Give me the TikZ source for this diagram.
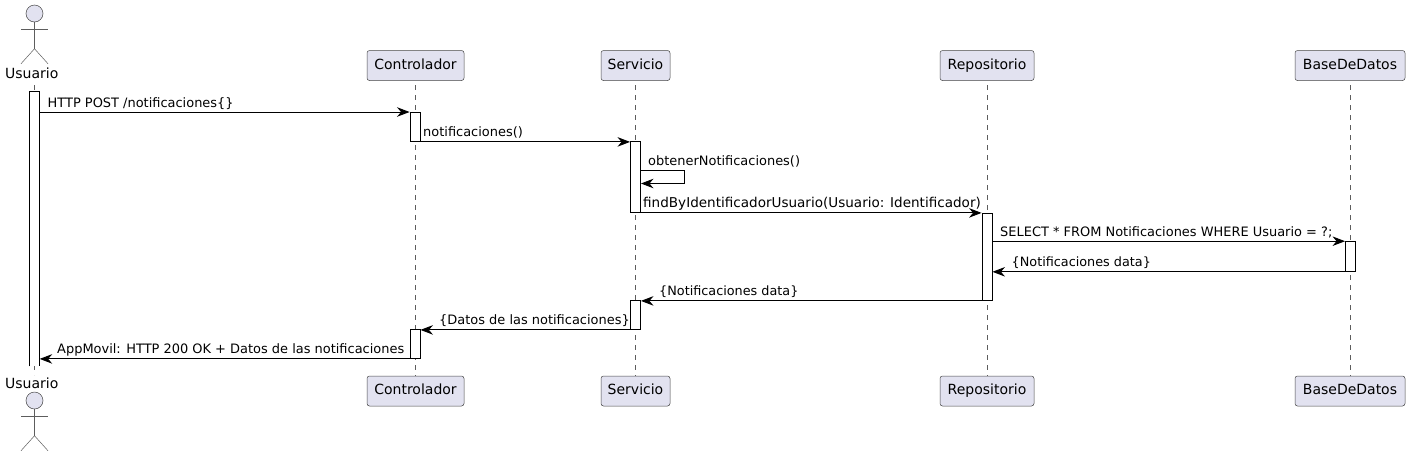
\documentclass[tikz,border=0pt]{standalone}
\usepackage{fontspec}
\setmainfont{DejaVu Sans}
\usetikzlibrary{arrows.meta,calc}
\definecolor{partfill}{HTML}{E2E2F0}
\definecolor{partline}{HTML}{181818}
\tikzset{
  x=1pt,y=-1pt,
  part/.style={draw=partline!80,line width=0.5pt,fill=partfill,rounded corners=2.5pt,inner sep=0pt,minimum height=30pt,text height=10.5pt,text depth=3pt,font=\fontsize{14}{16}\selectfont},
  actorname/.style={inner sep=0pt,font=\fontsize{14}{16}\selectfont},
  life/.style={draw=partline!70,line width=0.5pt,dash pattern=on 5pt off 5pt,dash phase=8.5pt},
  actbox/.style={draw=black,line width=0.9pt,fill=white,inner sep=0pt,minimum width=10pt,anchor=north},
  openbox/.style={fill=white,inner sep=0pt,minimum width=10pt,anchor=north},
  sideline/.style={draw=black,line width=0.9pt},
  msg/.style={draw=black,line width=0.9pt,-{Stealth[length=12.5pt,width=9.5pt,inset=4pt]}},
  msgtext/.style={inner sep=0pt,anchor=base west,font=\fontsize{12.95}{15}\selectfont},
  actorline/.style={draw=partline!70,line width=0.5pt},
  actorhead/.style={draw=partline!80,line width=0.5pt,fill=partfill,circle,inner sep=0pt,minimum size=17pt},
}
\newcommand{\stickfigure}[2]{%
  \draw[actorline] (#1.south) -- ++(0,26.5) coordinate (#2hip);
  \draw[actorline] ($(#1.south)+(-13.5,7.2)$) -- ++(27,0);
  \draw[actorline] ($(#2hip)+(-13.5,15)$) -- (#2hip) -- ($(#2hip)+(13.5,15)$);
}
\begin{document}
\begin{tikzpicture}
\useasboundingbox (0,0) rectangle (1409,456);
% participants
\node[actorhead] (headT) at (34.5,13.5) {};
\node[actorhead] (headB) at (34.5,400.5) {};
\node[actorname] (uT) at (31.8,73) {Usuario};
\node[actorname] (uB) at (31.8,383) {Usuario};
\node[part,minimum width=97pt] (cT) at (415.5,65.5) {Controlador};
\node[part,minimum width=97pt] (cB) at (415.5,391) {Controlador};
\node[part,minimum width=69pt] (sT) at (635.5,65.5) {Servicio};
\node[part,minimum width=69pt] (sB) at (635.5,391) {Servicio};
\node[part,minimum width=94pt] (rT) at (987,65.5) {Repositorio};
\node[part,minimum width=94pt] (rB) at (987,391) {Repositorio};
\node[part,minimum width=110pt] (bT) at (1350,65.5) {BaseDeDatos};
\node[part,minimum width=110pt] (bB) at (1350,391) {BaseDeDatos};
\stickfigure{headT}{t}
\stickfigure{headB}{b}
% lifelines
\coordinate (uTl) at (34.5,73.5);
\coordinate (uBl) at (34.5,375);
\coordinate (cTl) at (cT.south |- uTl);
\coordinate (sTl) at (sT.south |- uTl);
\coordinate (rTl) at (rT.south |- uTl);
\coordinate (bTl) at (bT.south |- uTl);
\begin{scope}
\clip (0,80.5) rectangle (1409,376);
\draw[life] (uTl) -- (uBl);
\draw[life] (cTl) -- (cB);
\draw[life] (sTl) -- (sB);
\draw[life] (rTl) -- (rB);
\draw[life] (bTl) -- (bB);
\end{scope}
% activations
\node[openbox,minimum height=274.5pt] (a1) at (34.5,91.5) {};
\draw[sideline] (a1.south west) -- (a1.north west) -- (a1.north east) -- (a1.south east);
\node[actbox,minimum height=29pt] (c1) at (415,112) {};
\node[actbox,minimum height=29pt] (c2) at (415,329) {};
\node[actbox,minimum height=71pt] (s1) at (635.5,141) {};
\node[actbox,minimum height=29pt] (s2) at (635.5,300) {};
\node[actbox,minimum height=87.5pt] (r1) at (987,212.5) {};
\node[actbox,minimum height=29.7pt] (b1) at (1350.5,241.2) {};
% messages
\draw[msg] (a1.east |- c1.north) -- (c1.north west);
\draw[msg] (c1.south east) -- (s1.west |- c1.south);
\coordinate (selfA) at (s1.east |- 0,170.5);
\coordinate (selfB) at (s1.east |- 0,183.5);
\draw[msg] (selfA) -- ++(43,0) -- ++(0,13) -- (selfB);
\draw[msg] (s1.south east) -- (r1.west |- s1.south);
\draw[msg] (r1.east |- b1.north) -- (b1.north west);
\draw[msg] (b1.south west) -- (r1.east |- b1.south);
\draw[msg] (r1.south west) -- (s2.east |- r1.south);
\draw[msg] (s2.south west) -- (c2.east |- s2.south);
\draw[msg] (c2.south west) -- (a1.east |- c2.south);
% labels
\node[msgtext] (m1) at (47.5,107) {HTTP POST /notificaciones\{\}};
\node[msgtext] (m2) at (423,136) {notificaciones()};
\node[msgtext] (m3) at (648,165.5) {obtenerNotificaciones()};
\node[msgtext,font=\fontsize{13.55}{15}\selectfont] (m4) at (643,207.5) {findByIdentificadorUsuario(Usuario: Identificador)};
\node[msgtext] (m5) at (1000,236.5) {SELECT * FROM Notificaciones WHERE Usuario = ?;};
\node[msgtext,font=\fontsize{12.8}{15}\selectfont] (m6) at (1011.5,266) {\{Notificaciones data\}};
\node[msgtext,font=\fontsize{12.8}{15}\selectfont] (m7) at (659,295) {\{Notificaciones data\}};
\node[msgtext] (m8) at (439,324) {\{Datos de las notificaciones\}};
\node[msgtext] (m9) at (57,353) {AppMovil: HTTP 200 OK + Datos de las notificaciones};
\end{tikzpicture}
\end{document}
